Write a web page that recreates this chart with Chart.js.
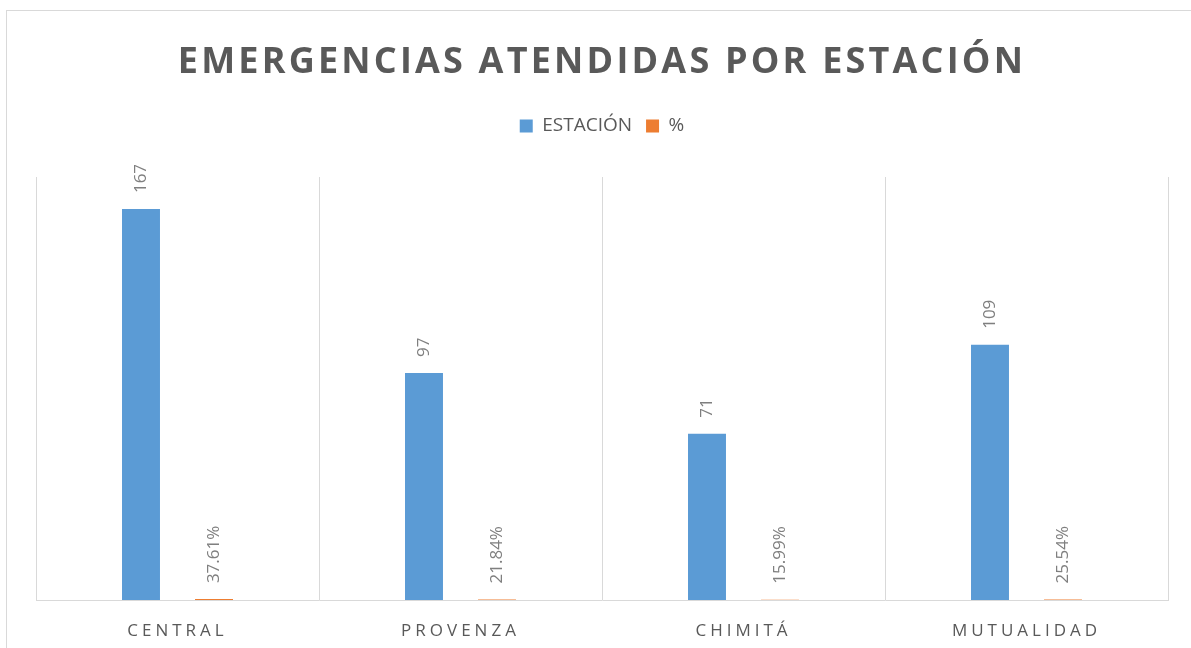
<!DOCTYPE html>
<html>
<head>
<meta charset="utf-8">
<script src="https://cdn.jsdelivr.net/npm/chart.js@4"></script>
<style>
  html, body { margin: 0; padding: 0; background: #fff; overflow: hidden; }
  #wrap { position: absolute; left: 0; top: 0; width: 1191px; height: 648px; }
</style>
</head>
<body>
<div id="wrap"><canvas id="grafico"></canvas></div>
<script>
const titulo = 'EMERGENCIAS ATENDIDAS POR ESTACIÓN';
const estaciones = ['CENTRAL', 'PROVENZA', 'CHIMITÁ', 'MUTUALIDAD'];
const atendidas = [167, 97, 71, 109];
const porcentajes = [0.3761, 0.2184, 0.1599, 0.2554];

const gris = '#595959';

// borde exterior, titulo, etiquetas del eje x y etiquetas de datos
const dibujosExtra = {
  id: 'dibujosExtra',
  beforeInit(chart) {
    const fitOriginal = chart.legend.fit;
    chart.legend.fit = function () {
      fitOriginal.call(this);
      this.height += 31.5;
    };
  },
  beforeDraw(chart) {
    const ctx = chart.ctx;
    ctx.save();
    ctx.strokeStyle = '#d9d9d9';
    ctx.lineWidth = 1;
    ctx.strokeRect(6.5, 10.5, 1400, 1000);
    ctx.restore();
  },
  afterDatasetsDraw(chart) {
    const ctx = chart.ctx;
    ctx.save();
    ctx.font = '17px "Open Sans"';
    ctx.fillStyle = '#7f7f7f';
    ctx.textAlign = 'left';
    ctx.textBaseline = 'middle';
    chart.data.datasets.forEach((ds, i) => {
      const meta = chart.getDatasetMeta(i);
      meta.data.forEach((bar, j) => {
        const v = ds.data[j];
        const texto = i === 0 ? String(v) : (v * 100).toFixed(2) + '%';
        ctx.save();
        ctx.translate(bar.x, bar.y - 16);
        ctx.rotate(-Math.PI / 2);
        ctx.fillText(texto, 0, 0);
        ctx.restore();
      });
    });
    ctx.restore();
  },
  afterDraw(chart) {
    const ctx = chart.ctx;
    ctx.save();
    ctx.fillStyle = gris;
    ctx.textAlign = 'center';
    ctx.textBaseline = 'alphabetic';
    // titulo
    ctx.font = 'bold 36px "Open Sans"';
    ctx.letterSpacing = '3.2px';
    ctx.fillText(titulo, 602, 73);
    // etiquetas eje x
    ctx.font = '17px "Open Sans"';
    ctx.letterSpacing = '4px';
    const x = chart.scales.x;
    estaciones.forEach((nombre, i) => {
      ctx.fillText(nombre, x.getPixelForValue(i), 636);
    });
    ctx.restore();
  }
};

new Chart(document.getElementById('grafico'), {
  type: 'bar',
  data: {
    labels: estaciones,
    datasets: [
      {
        label: 'ESTACIÓN',
        data: atendidas,
        backgroundColor: '#5b9bd5',
        categoryPercentage: 0.516,
        barPercentage: 0.52
      },
      {
        label: '%',
        data: porcentajes,
        backgroundColor: '#ed7d31',
        categoryPercentage: 0.516,
        barPercentage: 0.52
      }
    ]
  },
  options: {
    responsive: true,
    maintainAspectRatio: false,
    animation: false,
    layout: { padding: { top: 102.5, left: 36, right: 23, bottom: 48 } },
    plugins: {
      title: { display: false },
      tooltip: { enabled: false },
      legend: {
        position: 'top',
        labels: {
          boxWidth: 13,
          boxHeight: 13,
          padding: 14,
          color: gris,
          font: { family: 'Open Sans', size: 19 }
        }
      }
    },
    scales: {
      x: {
        grid: { display: true, color: '#d9d9d9', lineWidth: 1, drawTicks: false, offset: true },
        border: { display: true, color: '#d9d9d9', width: 1 },
        ticks: { display: false }
      },
      y: {
        display: false,
        min: 0,
        max: 180.7
      }
    }
  },
  plugins: [dibujosExtra]
});
</script>
</body>
</html>
